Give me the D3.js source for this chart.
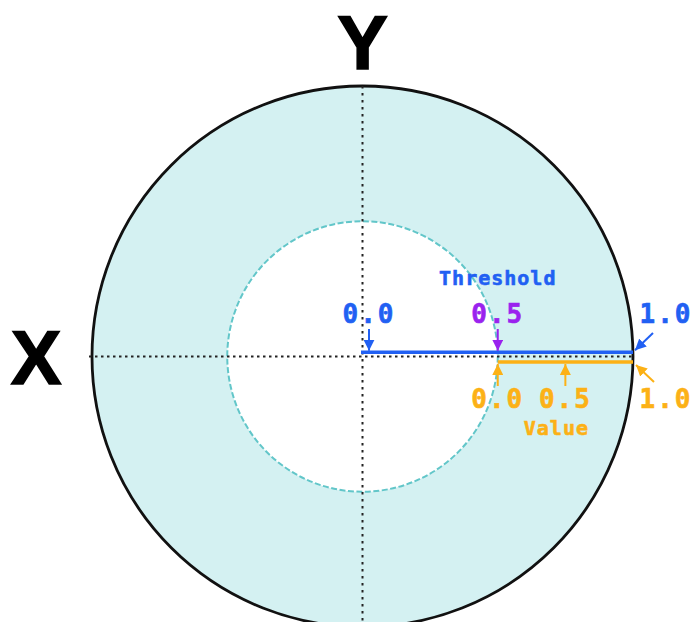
<!DOCTYPE html>
<html><head><meta charset="utf-8">
<script src="https://cdn.jsdelivr.net/npm/d3@7"></script>
<style>body{margin:0;background:#fff}svg{display:block}</style>
</head><body>
<svg id="c" width="690" height="622"></svg>
<script>
// data
const axisLabels = ["X", "Y"];
const thresholdTicks = [0.0, 0.5, 1.0];
const thresholdColors = ["#2160f3", "#9a22ee", "#2160f3"];
const valueTicks = [0.0, 0.5, 1.0];
const innerRatio = [0.5];
const seriesNames = ["Threshold", "Value"];

const svg = d3.select("#c");
const cx = 362.5, cy = 356.5, R = 270.5;
const blue = "#2160f3", orange = "#fcb116";

// scales
const sx = d3.scaleLinear().domain([-1, 1]).range([cx - R, cx + R]);
const sy = d3.scaleLinear().domain([-1, 1]).range([cy + R, cy - R]);
const tScale = d3.scaleLinear().domain([0, 1]).range([sx(0), sx(1)]);
const vScale = d3.scaleLinear().domain([0, 1]).range([sx(innerRatio[0]), sx(1)]);
const rScale = d3.scaleLinear().domain([0, 1]).range([0, R]);

const defs = svg.append("defs");
function marker(id, color) {
  defs.append("marker").attr("id", id).attr("viewBox", "0 0 10 10")
    .attr("refX", 10).attr("refY", 5).attr("markerWidth", 11).attr("markerHeight", 11)
    .attr("markerUnits", "userSpaceOnUse").attr("orient", "auto")
    .append("path").attr("d", "M0,0 L10,5 L0,10 Z").attr("fill", color);
}
marker("mb", blue); marker("mp", thresholdColors[1]); marker("mo", orange);

// annulus
const arc = d3.arc().innerRadius(rScale(innerRatio[0])).outerRadius(rScale(1)).startAngle(0).endAngle(2 * Math.PI);
svg.append("path").attr("d", arc()).attr("transform", `translate(${cx},${cy})`).attr("fill", "#d4f1f2");
svg.append("circle").attr("cx", cx).attr("cy", cy).attr("r", rScale(innerRatio[0]))
  .attr("fill", "#fff").attr("stroke", "#62c6c9").attr("stroke-width", 2).attr("stroke-dasharray", "6,2.5");
svg.append("circle").attr("cx", cx).attr("cy", cy).attr("r", rScale(1))
  .attr("fill", "none").attr("stroke", "#111").attr("stroke-width", 2.8);

// dotted axes
svg.append("line").attr("x1", sx(-1) - 3).attr("x2", sx(1)).attr("y1", sy(0)).attr("y2", sy(0))
  .attr("stroke", "#222").attr("stroke-width", 2).attr("stroke-dasharray", "2.5,3.5");
svg.append("line").attr("x1", sx(0)).attr("x2", sx(0)).attr("y1", sy(1)).attr("y2", sy(-1))
  .attr("stroke", "#222").attr("stroke-width", 2).attr("stroke-dasharray", "2.5,4.5");

// axis labels
svg.append("text").text(axisLabels[1]).attr("x", sx(0)).attr("y", 69)
  .attr("text-anchor", "middle").attr("font-family", "Liberation Sans, Arial, sans-serif")
  .attr("font-weight", "bold").attr("font-size", 76).attr("fill", "#000")
  .attr("stroke", "#000").attr("stroke-width", 1.5);
svg.append("text").text(axisLabels[0]).attr("x", 36).attr("y", 384)
  .attr("text-anchor", "middle").attr("font-family", "Liberation Sans, Arial, sans-serif")
  .attr("font-weight", "bold").attr("font-size", 76).attr("fill", "#000")
  .attr("stroke", "#000").attr("stroke-width", 1.5);

// threshold line and value line
const tY = sy(0) - 4.3, vY = sy(0) + 5.5;
svg.append("line").attr("x1", tScale(0) - 1.5).attr("x2", tScale(1)).attr("y1", tY).attr("y2", tY)
  .attr("stroke", blue).attr("stroke-width", 3.6);
svg.append("line").attr("x1", vScale(0)).attr("x2", vScale(1)).attr("y1", vY).attr("y2", vY)
  .attr("stroke", orange).attr("stroke-width", 3.6);

const mono = "DejaVu Sans Mono, monospace";
function label(txt, x, y, color, size) {
  svg.append("text").text(txt).attr("x", x).attr("y", y).attr("text-anchor", "middle")
    .attr("font-family", mono).attr("font-weight", "bold").attr("font-size", size)
    .attr("letter-spacing", size > 22 ? 2 : 1).attr("fill", color)
    .attr("stroke", color).attr("stroke-width", 0.6);
}
function arrow(x1, y1, x2, y2, color, mid) {
  svg.append("line").attr("x1", x1).attr("y1", y1).attr("x2", x2).attr("y2", y2)
    .attr("stroke", color).attr("stroke-width", 2).attr("marker-end", `url(#${mid})`);
}

// threshold ticks
thresholdTicks.forEach((t, i) => {
  const x = tScale(t), col = thresholdColors[i], mid = i === 1 ? "mp" : "mb";
  if (t < 1) {
    const ax = i === 0 ? x + 6.5 : x;
    arrow(ax, 329, ax, tY - 1.5, col, mid);
    label(t.toFixed(1), ax, 323, col, 26);
  } else {
    arrow(x + 20, 333, x + 2, tY - 2, col, mid);
    label(t.toFixed(1), x + 33, 323, col, 26);
  }
});
label(seriesNames[0], tScale(0.5), 285, blue, 20);

// value ticks
valueTicks.forEach((v, i) => {
  const x = vScale(v);
  if (v < 1) {
    arrow(x, 386, x, vY + 2, orange, "mo");
    label(v.toFixed(1), x, 408, orange, 26);
  } else {
    arrow(x + 21, 382, x + 3, vY + 3, orange, "mo");
    label(v.toFixed(1), x + 33, 408, orange, 26);
  }
});
label(seriesNames[1], vScale(0.5) - 9, 435, orange, 20);
</script>
</body></html>
